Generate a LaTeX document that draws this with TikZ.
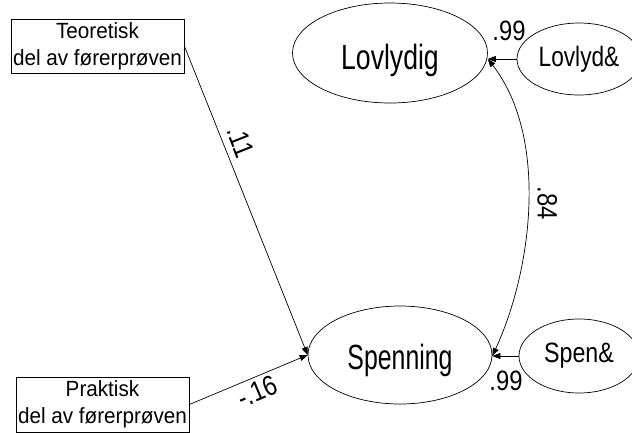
\documentclass[tikz,border=0pt]{standalone}
\usepackage{fontspec}
\setmainfont{Liberation Sans}
\usetikzlibrary{shapes.geometric,arrows.meta}
% horizontally condensed text
\newcommand{\sq}[2]{\scalebox{#1}[1]{#2}}

\begin{document}
\begin{tikzpicture}[x=1pt,y=-1pt,
  tip/.style={-{Triangle[length=8pt,width=6pt]}},
  link/.style={line width=0.7pt, tip},
  both/.style={line width=0.7pt, {Triangle[length=8pt,width=6pt]}-{Triangle[length=8pt,width=6pt]}},
  latent/.style={ellipse, draw, line width=0.7pt, inner sep=0pt},
  obs/.style={rectangle, draw, line width=0.7pt, minimum width=173pt,
    minimum height=54pt, inner sep=0pt, align=center,
    font=\fontsize{22}{27}\selectfont},
  coef/.style={font=\fontsize{28}{30}\selectfont, inner sep=0pt}]
\useasboundingbox (0,0) rectangle (632,432);

% observed variables
\node[obs] (teo) at (97.5,46) {\sq{0.94}{Teoretisk}\\\sq{0.94}{del av førerprøven}};
\node[obs, minimum height=55pt] (prak) at (102.5,404.5) {\sq{0.94}{Praktisk}\\\sq{0.94}{del av førerprøven}};

% latent variables
\node[latent, minimum width=195pt, minimum height=100pt, text height=40pt, text depth=7pt] (lov) at (390,53)
  {\fontsize{35}{40}\selectfont\sq{0.76}{Lovlydig}};
\node[latent, minimum width=184pt, minimum height=98pt, text height=35pt, text depth=7pt] (spen) at (400,355)
  {\fontsize{35}{40}\selectfont\sq{0.71}{Spenning}};

% residuals
\node[latent, minimum width=124pt, minimum height=72pt] (lovr) at (579,59)
  {\fontsize{28}{30}\selectfont\sq{0.81}{Lovlyd\&}};
\node[latent, minimum width=120pt, minimum height=74pt] (spenr) at (579,356)
  {\fontsize{28}{30}\selectfont\sq{0.83}{Spen\&}};

\coordinate (lovin) at (lovr.west -| lov.east);
\coordinate (spenin) at (spenr.west -| spen.east);

% paths
\draw[link] (teo.east) -- node[pos=0.33, sloped, above=7pt, coef] (c11) {\sq{0.85}{.11}} (spen.west);
\draw[link] (prak.east) -- node[pos=0.53, sloped, below=4pt, coef] (c16) {\sq{0.85}{-.16}} (spen.west);
\draw[link] (lovr.west) -- (lovin);
\draw[link] (spenr.west) -- (spenin);
\draw[both] (lovin) .. controls +(60,77) and +(41,-89) .. node[pos=0.5, rotate=-90, above=9pt, coef] (c84) {\sq{0.85}{.84}} (spenin);

% residual weights
\node[coef] (w1) at (509,31) {\sq{0.85}{.99}};
\node[coef] (w2) at (506,381) {\sq{0.85}{.99}};
\end{tikzpicture}
\end{document}
